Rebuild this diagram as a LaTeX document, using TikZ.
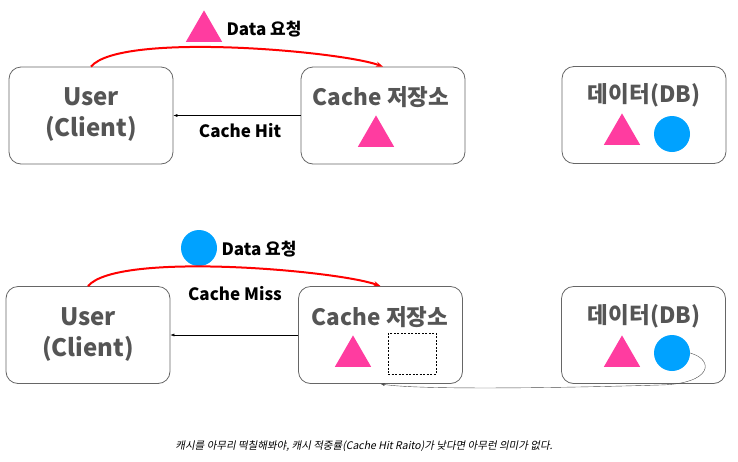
\documentclass[tikz,border=0pt]{standalone}
\usepackage{fontspec}
\setmainfont{Noto Sans CJK KR}[AutoFakeSlant=0.2]
\usetikzlibrary{shapes.geometric,arrows.meta}
\definecolor{boxgray}{RGB}{85,85,85}
\definecolor{tripink}{RGB}{255,60,160}
\definecolor{dotblue}{RGB}{0,162,255}
\begin{document}
\begin{tikzpicture}[x=1pt,y=-1pt,
  box/.style={draw=black!60, line width=0.8pt, rounded corners=12pt, minimum width=164pt, minimum height=97pt},
  title/.style={text=boxgray, font=\fontsize{22.5}{26}\selectfont\bfseries},
  tri/.style={regular polygon, regular polygon sides=3, fill=tripink, inner sep=0pt, minimum size=42pt},
  dot/.style={circle, fill=dotblue, inner sep=0pt, minimum size=36pt},
  lbl/.style={font=\fontsize{17}{20}\selectfont\bfseries},
  req/.style={red, line width=2pt, -{Stealth[length=7pt]}, out=50, in=160, looseness=0.4}]
\useasboundingbox (0,0) rectangle (738,461);
% Cache Hit
\node[box](user1) at (91,115.5) {};
\node[box](cache1) at (383,115.5) {};
\node[box](db1) at (644,115) {};
\node[title, font=\fontsize{24}{31}\selectfont\bfseries, align=center](user1t) at (91,115) {User\\(Client)};
\node[title](cache1t) at (381,97) {Cache 저장소};
\node[title](db1t) at (644,95) {데이터(DB)};
\node[tri](tri1) at (376,136.4) {};
\node[tri](tri2) at (622,134.4) {};
\node[dot](dot1) at (672,134) {};
\node[tri](tri3) at (204,31.4) {};
\node[lbl, anchor=west](req1) at (223,29) {Data 요청};
\draw[req] (user1.north) to (cache1.north);
\draw[-{Latex[length=4pt]}] (cache1) -- (user1);
\node[lbl](hit) at (240,131) {Cache Hit};
% Cache Miss
\node[box](user2) at (88,335) {};
\node[box](cache2) at (380.5,335) {};
\node[box](db2) at (643.5,335) {};
\node[title, font=\fontsize{24}{31}\selectfont\bfseries, align=center](user2t) at (88,335) {User\\(Client)};
\node[title](cache2t) at (380,317) {Cache 저장소};
\node[title](db2t) at (644,316) {데이터(DB)};
\node[tri](tri4) at (353,356.4) {};
\node[draw, dash pattern=on 2pt off 1.5pt, line width=0.8pt, minimum width=48pt, minimum height=41pt](empty) at (412,353.5) {};
\node[tri](tri5) at (622,356.4) {};
\node[dot](dot2) at (672,353) {};
\node[dot](dot3) at (199,248) {};
\node[lbl, anchor=west](req2) at (218,249) {Data 요청};
\draw[req] (user2.north) to (cache2.north);
\node[lbl](miss) at (235,294) {Cache Miss};
\draw[-{Latex[length=4pt]}] (cache2) -- (user2);
\draw[black!70, -{Latex[length=4pt]}] (dot2.east) .. controls (715,360) and (712,384) .. (660,385) .. controls (560,388) and (420,390) .. (cache2.south);
\node[font=\fontsize{10.5}{12}\selectfont\itshape](note) at (364,446) {캐시를 아무리 떡칠해봐야, 캐시 적중률(Cache Hit Raito)가 낮다면 아무런 의미가 없다.};
\end{tikzpicture}
\end{document}
